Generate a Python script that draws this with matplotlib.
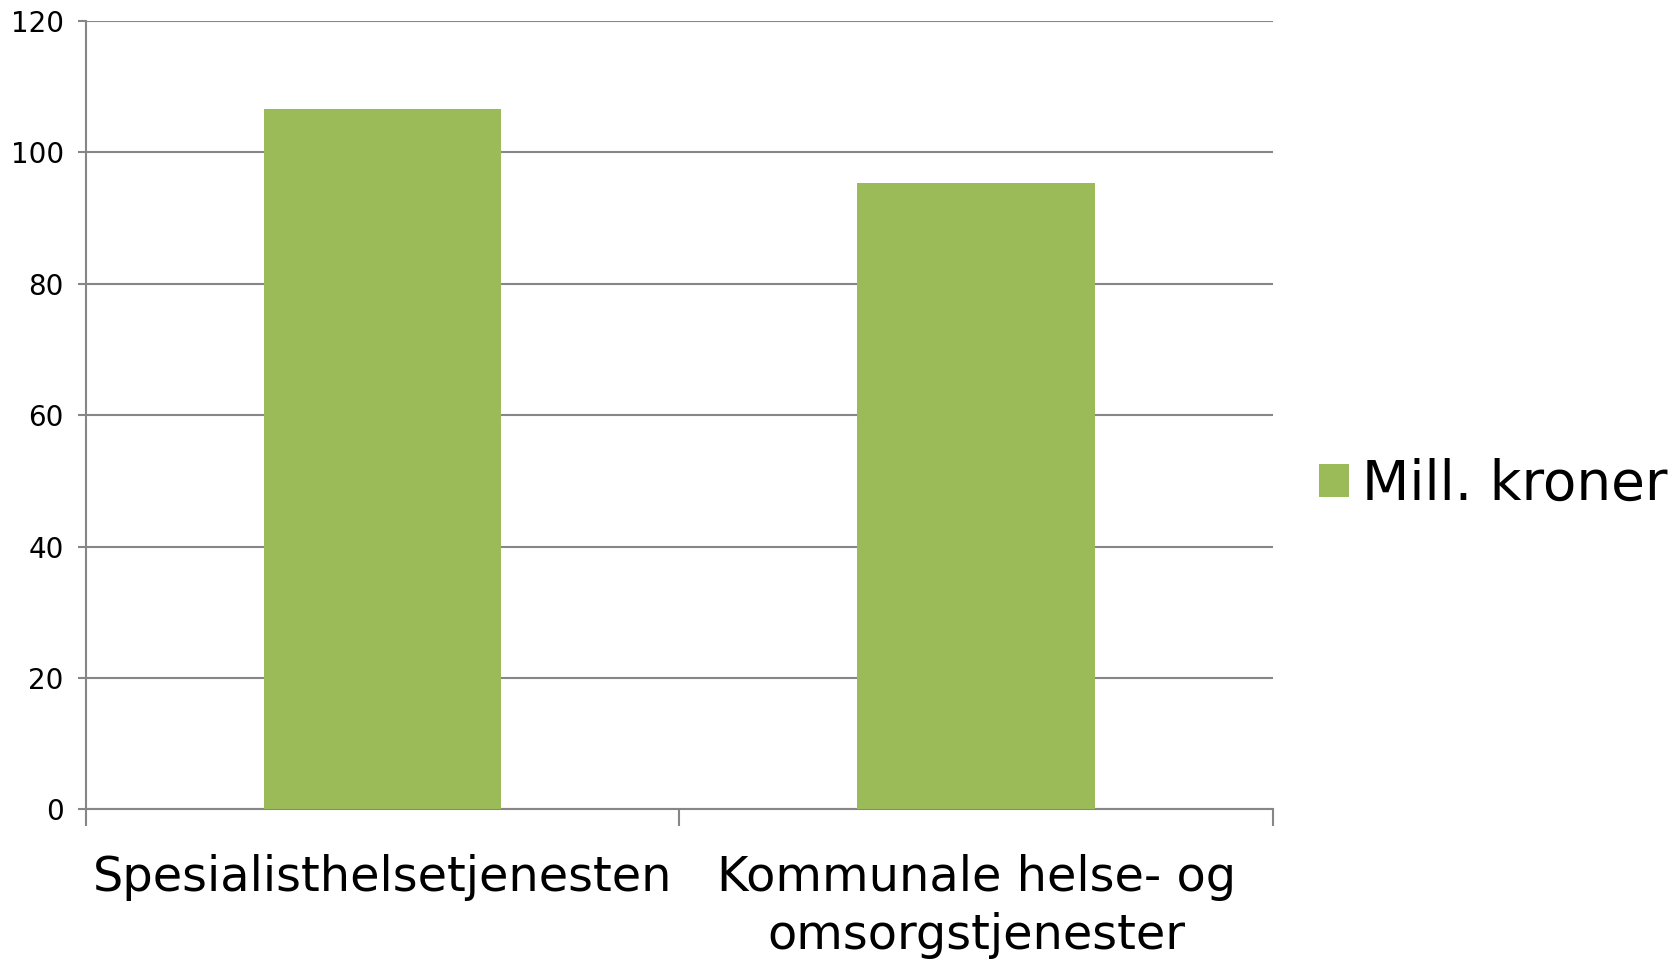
import matplotlib
matplotlib.use("Agg")
import matplotlib.pyplot as plt
from matplotlib.patches import Patch

categories = ["Spesialisthelsetjenesten", "Kommunale helse- og\nomsorgstjenester"]
values = [106.6, 95.4]
series_name = "Mill. kroner"
yticks = [0, 20, 40, 60, 80, 100, 120]

green = "#9BBB59"
grey = "#868686"

fig = plt.figure(figsize=(16.81, 9.6), dpi=100)
ax = fig.add_axes([0.0512, 0.157, 0.706, 0.821])

pos = [0.5 + i for i in range(len(categories))]
ax.bar(pos, values, width=0.4, color=green, zorder=3)

ax.set_xlim(0, len(categories))
ax.set_ylim(0, 120)
ax.set_yticks(yticks)
ax.set_yticklabels([str(v) for v in yticks], fontsize=20)
ax.yaxis.grid(True, color=grey, linewidth=1.5, zorder=0)

ax.set_xticks(range(len(categories) + 1))
ax.set_xticklabels([])
ax.set_xticks(pos, minor=True)
ax.set_xticklabels(categories, minor=True, fontsize=34.5, linespacing=1.3)
ax.tick_params(axis="x", which="major", length=12, color=grey, width=1.5)
ax.tick_params(axis="x", which="minor", length=0, pad=32)
ax.tick_params(axis="y", length=6, color=grey, width=1.5, pad=10)

for s in ["top", "right"]:
    ax.spines[s].set_visible(False)
for s in ["left", "bottom"]:
    ax.spines[s].set_color(grey)
    ax.spines[s].set_linewidth(1.5)

handle = Patch(facecolor=green, label=series_name)
fig.legend(handles=[handle], loc="center left", bbox_to_anchor=(0.755, 0.495),
           frameon=False, fontsize=39.5, handlelength=0.55, handleheight=0.55,
           handletextpad=0.25)

fig.savefig("out.png", dpi=100)
